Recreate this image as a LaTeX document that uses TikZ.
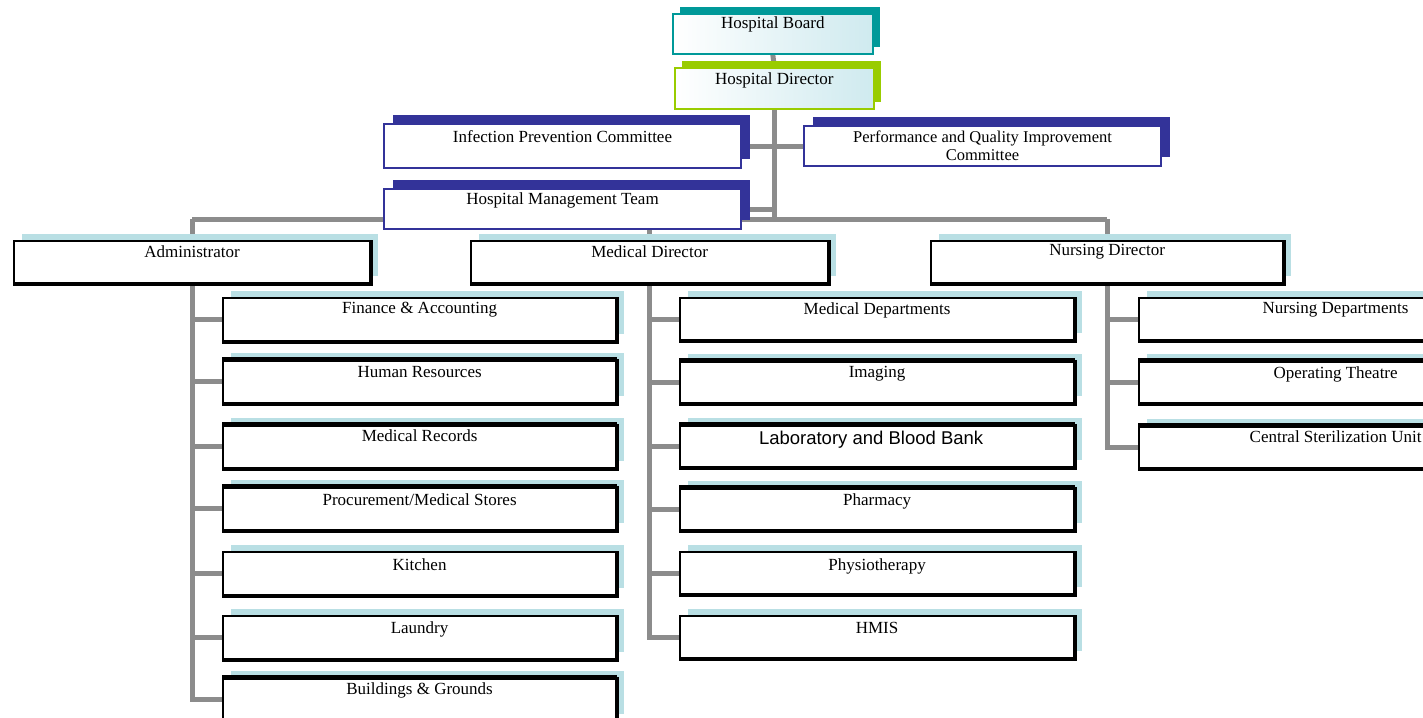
\documentclass[tikz,border=0pt]{standalone}
\usepackage{fontspec}
\setmainfont{Liberation Serif}
\newfontfamily\arialf{Liberation Sans}
\usetikzlibrary{shadows}
\pgfdeclarelayer{back}
\pgfsetlayers{back,main}
\definecolor{conncol}{HTML}{8C8C8C}
\definecolor{shcyan}{HTML}{B9DFE4}
\definecolor{navy}{HTML}{333399}
\definecolor{tealb}{HTML}{009999}
\definecolor{limeb}{HTML}{99CC00}
\definecolor{paleblue}{HTML}{CFEAEF}
\tikzset{
  conn/.style={draw=conncol, line width=5pt},
  orgbox/.style={rectangle, anchor=north west, inner sep=0pt, fill=white, draw=black, line width=2.2pt,
    general shadow={fill=shcyan, shadow xshift=8pt, shadow yshift=7pt}},
  combox/.style={rectangle, anchor=north west, inner sep=0pt, fill=white, draw=navy, line width=2pt,
    general shadow={fill=navy, shadow xshift=9pt, shadow yshift=9pt}},
  topbox/.style={rectangle, anchor=north west, inner sep=0pt, left color=white, right color=paleblue, draw=#1, line width=1.6pt,
    general shadow={fill=#1, shadow xshift=7pt, shadow yshift=7pt}},
  lbl/.style={inner sep=0pt, font=\fontsize{17}{18}\selectfont, align=center},
  heavyedge/.style={draw=black, line width=3.6pt},
  heavytop/.style={draw=black, line width=5pt},
}
\begin{document}
\begin{tikzpicture}[x=1pt,y=1pt]
\useasboundingbox (0,0) rectangle (1423,-717);
\clip (0,0) rectangle (1423,-717);
\begin{pgfonlayer}{back}
\fill[white] (0,0) rectangle (1423,-717);
\end{pgfonlayer}

\coordinate (bus) at (773,-219);

% top
\node[topbox=tealb, minimum width=200pt, minimum height=40pt] (board) at (672,-13) {};
\node[lbl] at ([yshift=-11pt]board.north) {Hospital Board};
\node[topbox=limeb, minimum width=199pt, minimum height=41pt] (hd) at (674,-67) {};
\node[lbl] at ([yshift=-13pt]hd.north) {Hospital Director};

% committees
\node[combox, minimum width=357pt, minimum height=44pt] (ipc) at (383,-123) {};
\node[lbl] at ([yshift=-14pt]ipc.north) {Infection Prevention Committee};
\node[combox, minimum width=357pt, minimum height=40pt] (pqic) at (803,-125) {};
\node[lbl, font=\fontsize{16.5}{18}\selectfont] at ([yshift=-21pt]pqic.north) {Performance and Quality Improvement\\Committee};
\node[combox, minimum width=357pt, minimum height=40pt] (hmt) at (383,-188) {};
\node[lbl] at ([yshift=-12pt]hmt.north) {Hospital Management Team};

% directors
\node[orgbox, minimum width=356pt, minimum height=42pt] (adm) at (13,-240) {};
\node[lbl] at ([yshift=-12pt]adm.north) {Administrator};
\node[orgbox, minimum width=357pt, minimum height=42pt] (med) at (470,-240) {};
\node[lbl] at ([yshift=-12pt]med.north) {Medical Director};
\node[orgbox, minimum width=352pt, minimum height=42pt] (nur) at (930,-240) {};
\node[lbl] at ([yshift=-12pt]nur.north) {Nursing Director};

% administration column
\node[orgbox, minimum width=393pt, minimum height=43pt] (fin) at (222,-297) {};
\node[lbl] at ([yshift=-13pt]fin.north) {Finance \& Accounting};
\node[orgbox, minimum width=393pt, minimum height=43pt] (hr) at (222,-359) {};
\node[lbl] at ([yshift=-13pt]hr.north) {Human Resources};
\node[orgbox, minimum width=393pt, minimum height=43pt] (mrec) at (222,-424) {};
\node[lbl] at ([yshift=-12pt]mrec.north) {Medical Records};
\node[orgbox, minimum width=393pt, minimum height=43pt] (proc) at (222,-486) {};
\node[lbl] at ([yshift=-14pt]proc.north) {Procurement/Medical Stores};
\node[orgbox, minimum width=393pt, minimum height=43pt] (kit) at (222,-551) {};
\node[lbl] at ([yshift=-14pt]kit.north) {Kitchen};
\node[orgbox, minimum width=393pt, minimum height=43pt] (lau) at (222,-615) {};
\node[lbl] at ([yshift=-14pt]lau.north) {Laundry};
\node[orgbox, minimum width=393pt, minimum height=43pt] (bg) at (222,-677) {};
\node[lbl] at ([yshift=-13pt]bg.north) {Buildings \& Grounds};

% medical column
\node[orgbox, minimum width=394pt, minimum height=42pt] (mdep) at (679,-297) {};
\node[lbl] at ([yshift=-13pt]mdep.north) {Medical Departments};
\node[orgbox, minimum width=394pt, minimum height=42pt] (img) at (679,-360) {};
\node[lbl] at ([yshift=-14pt]img.north) {Imaging};
\node[orgbox, minimum width=394pt, minimum height=42pt] (lab) at (679,-424) {};
\node[lbl, font=\arialf\fontsize{18.5}{20}\selectfont] at ([yshift=-16pt,xshift=-6pt]lab.north) {Laboratory and Blood Bank};
\node[orgbox, minimum width=394pt, minimum height=42pt] (phar) at (679,-487) {};
\node[lbl] at ([yshift=-14pt]phar.north) {Pharmacy};
\node[orgbox, minimum width=394pt, minimum height=42pt] (phys) at (679,-551) {};
\node[lbl] at ([yshift=-15pt]phys.north) {Physiotherapy};
\node[orgbox, minimum width=394pt, minimum height=42pt] (hmis) at (679,-615) {};
\node[lbl] at ([yshift=-13pt]hmis.north) {HMIS};

% nursing column
\node[orgbox, minimum width=393pt, minimum height=42pt] (ndep) at (1138,-297) {};
\node[lbl] at ([yshift=-13pt]ndep.north) {Nursing Departments};
\node[orgbox, minimum width=393pt, minimum height=42pt] (ot) at (1138,-360) {};
\node[lbl] at ([yshift=-14pt]ot.north) {Operating Theatre};
\node[orgbox, minimum width=393pt, minimum height=42pt] (csu) at (1138,-425) {};
\node[lbl] at ([yshift=-12pt]csu.north) {Central Sterilization Unit};

% heavier right/bottom edges
\foreach \n in {adm,med,nur,fin,hr,mrec,proc,kit,lau,bg,mdep,img,lab,phar,phys,hmis,ndep,ot,csu}
  \draw[heavyedge] (\n.north east) -- (\n.south east) -- (\n.south west);
\foreach \n in {hr,mrec,proc,bg,img,lab,phar,ot,csu}
  \draw[heavytop] (\n.north west) -- (\n.north east);

% connectors, behind the boxes
\begin{pgfonlayer}{back}
\draw[conn] (board.south) -- (hd.north);
\draw[conn] (hd.south) -- (hd.south |- bus);
\draw[conn] (ipc.east) -- (ipc.east -| pqic.west);
\draw[conn] (hmt.east) -- (hmt.east -| hd.south);
\draw[conn] (adm.north |- bus) -- (nur.north |- bus);
\draw[conn] (adm.north |- bus) -- (adm.north);
\draw[conn] (med.north |- bus) -- (med.north);
\draw[conn] (nur.north |- bus) -- (nur.north);
\draw[conn] (adm.south) -- (adm.south |- bg.west) -- (bg.west);
\foreach \n in {fin,hr,mrec,proc,kit,lau}
  \draw[conn] (adm.south |- \n.west) -- (\n.west);
\draw[conn] (med.south) -- (med.south |- hmis.west) -- (hmis.west);
\foreach \n in {mdep,img,lab,phar,phys}
  \draw[conn] (med.south |- \n.west) -- (\n.west);
\draw[conn] (nur.south) -- (nur.south |- csu.west) -- (csu.west);
\foreach \n in {ndep,ot}
  \draw[conn] (nur.south |- \n.west) -- (\n.west);
\end{pgfonlayer}
\end{tikzpicture}
\end{document}
